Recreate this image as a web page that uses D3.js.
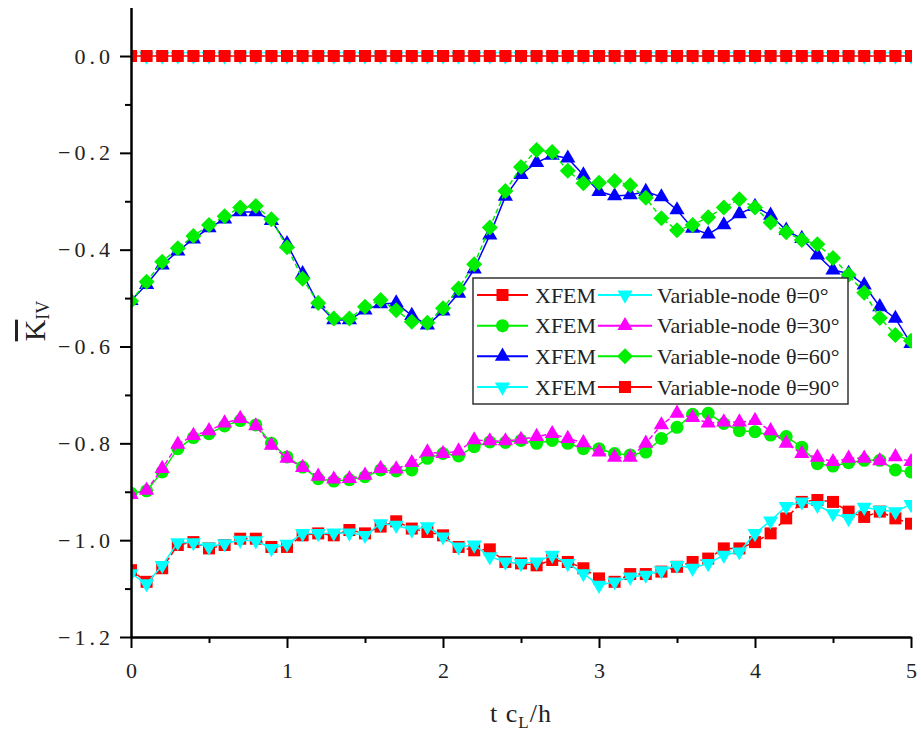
<!DOCTYPE html>
<html>
<head>
<meta charset="utf-8">
<script src="https://d3js.org/d3.v7.min.js"></script>
<style>
    body { margin: 0; background: #fff; }
    .axis path, .axis line { stroke: #000; }
</style>
</head>
<body>
<script>
    // x values (t cL/h)
    var tValues = [0.0, 0.1, 0.2, 0.3, 0.4, 0.5, 0.6, 0.7, 0.8, 0.9,
                   1.0, 1.1, 1.2, 1.3, 1.4, 1.5, 1.6, 1.7, 1.8, 1.9,
                   2.0, 2.1, 2.2, 2.3, 2.4, 2.5, 2.6, 2.7, 2.8, 2.9,
                   3.0, 3.1, 3.2, 3.3, 3.4, 3.5, 3.6, 3.7, 3.8, 3.9,
                   4.0, 4.1, 4.2, 4.3, 4.4, 4.5, 4.6, 4.7, 4.8, 4.9, 5.0];

    // theta = 0
    var xfem0 = [0, 0, 0, 0, 0, 0, 0, 0, 0, 0, 0, 0, 0, 0, 0, 0, 0, 0, 0, 0, 0, 0, 0, 0, 0, 0,
                 0, 0, 0, 0, 0, 0, 0, 0, 0, 0, 0, 0, 0, 0, 0, 0, 0, 0, 0, 0, 0, 0, 0, 0, 0];
    var varNode0 = [0, 0, 0, 0, 0, 0, 0, 0, 0, 0, 0, 0, 0, 0, 0, 0, 0, 0, 0, 0, 0, 0, 0, 0, 0, 0,
                    0, 0, 0, 0, 0, 0, 0, 0, 0, 0, 0, 0, 0, 0, 0, 0, 0, 0, 0, 0, 0, 0, 0, 0, 0];

    // theta = 30
    var xfem30 = [-0.903, -0.898, -0.859, -0.811, -0.788, -0.780, -0.764, -0.753, -0.762, -0.800,
                  -0.828, -0.849, -0.873, -0.878, -0.875, -0.869, -0.855, -0.857, -0.855, -0.831,
                  -0.821, -0.826, -0.807, -0.797, -0.798, -0.794, -0.800, -0.794, -0.800, -0.811,
                  -0.811, -0.821, -0.824, -0.818, -0.790, -0.767, -0.740, -0.738, -0.759, -0.774,
                  -0.776, -0.783, -0.786, -0.808, -0.842, -0.847, -0.840, -0.835, -0.835, -0.855, -0.859];
    var varNode30 = [-0.906, -0.897, -0.852, -0.802, -0.784, -0.774, -0.758, -0.749, -0.764, -0.804,
                     -0.831, -0.850, -0.868, -0.874, -0.873, -0.866, -0.852, -0.853, -0.840, -0.818,
                     -0.821, -0.816, -0.793, -0.795, -0.795, -0.792, -0.786, -0.780, -0.790, -0.799,
                     -0.818, -0.829, -0.829, -0.800, -0.762, -0.738, -0.747, -0.758, -0.756, -0.756,
                     -0.753, -0.774, -0.800, -0.821, -0.829, -0.838, -0.831, -0.831, -0.836, -0.828, -0.838];

    // theta = 60
    var xfem60 = [-0.505, -0.472, -0.432, -0.403, -0.378, -0.355, -0.337, -0.322, -0.322, -0.340,
                  -0.388, -0.450, -0.512, -0.545, -0.545, -0.525, -0.512, -0.510, -0.536, -0.556,
                  -0.527, -0.490, -0.440, -0.370, -0.290, -0.245, -0.220, -0.205, -0.211, -0.246,
                  -0.280, -0.289, -0.287, -0.280, -0.291, -0.318, -0.356, -0.368, -0.349, -0.326,
                  -0.311, -0.329, -0.360, -0.377, -0.411, -0.442, -0.449, -0.473, -0.518, -0.542, -0.594];
    var varNode60 = [-0.506, -0.466, -0.425, -0.397, -0.372, -0.349, -0.331, -0.313, -0.310, -0.337,
                     -0.395, -0.460, -0.510, -0.542, -0.542, -0.518, -0.504, -0.525, -0.549, -0.551,
                     -0.521, -0.480, -0.430, -0.354, -0.279, -0.229, -0.194, -0.198, -0.237, -0.263,
                     -0.262, -0.258, -0.267, -0.293, -0.335, -0.360, -0.349, -0.333, -0.313, -0.296,
                     -0.313, -0.344, -0.364, -0.380, -0.389, -0.417, -0.452, -0.489, -0.541, -0.576, -0.588];

    // theta = 90
    var xfem90 = [-1.069, -1.090, -1.052, -1.005, -1.005, -1.014, -1.007, -1.000, -1.001, -1.017,
                  -1.008, -0.986, -0.986, -0.985, -0.985, -0.990, -0.966, -0.969, -0.979, -0.972,
                  -0.993, -1.014, -1.010, -1.034, -1.045, -1.048, -1.045, -1.031, -1.048, -1.069,
                  -1.093, -1.086, -1.076, -1.072, -1.063, -1.052, -1.058, -1.048, -1.031, -1.024,
                  -0.986, -0.960, -0.930, -0.921, -0.928, -0.945, -0.955, -0.932, -0.938, -0.941, -0.926];
    var varNode90 = [-1.062, -1.086, -1.058, -1.010, -1.004, -1.017, -1.010, -0.997, -0.997, -1.014,
                     -1.014, -0.990, -0.986, -0.990, -0.979, -0.986, -0.972, -0.961, -0.976, -0.983,
                     -0.990, -1.014, -1.021, -1.019, -1.045, -1.048, -1.052, -1.041, -1.045, -1.058,
                     -1.079, -1.086, -1.070, -1.070, -1.065, -1.055, -1.045, -1.038, -1.017, -1.017,
                     -1.004, -0.986, -0.955, -0.921, -0.917, -0.921, -0.941, -0.952, -0.941, -0.955, -0.966];

    var xTicks = [0, 1, 2, 3, 4, 5];
    var xMinorTicks = [0.5, 1.5, 2.5, 3.5, 4.5];
    var yTicks = [0.0, -0.2, -0.4, -0.6, -0.8, -1.0, -1.2];
    var yMinorTicks = [-0.1, -0.3, -0.5, -0.7, -0.9, -1.1];

    var legendLabels = ["XFEM", "XFEM", "XFEM", "XFEM",
                        "Variable-node \u03b8=0\u00b0", "Variable-node \u03b8=30\u00b0",
                        "Variable-node \u03b8=60\u00b0", "Variable-node \u03b8=90\u00b0"];

    var w = 921, h = 735;
    var serif = "'Liberation Serif'";

    var svg = d3.select("body").append("svg")
        .attr("width", w)
        .attr("height", h);

    svg.append("rect").attr("width", w).attr("height", h).attr("fill", "#fff");

    var x = d3.scaleLinear().domain([0, 5]).range([131, 911]);
    var y = d3.scaleLinear().domain([-1.2, 0.1]).range([637, 7.6]);

    // plot area clip (markers at t=0 and t=5 are cut in half)
    svg.append("defs").append("clipPath").attr("id", "plot")
        .append("rect")
        .attr("x", x(0)).attr("y", y(0.1))
        .attr("width", x(5) - x(0) + 1).attr("height", y(-1.2) - y(0.1));

    var sym = {
        square:   { type: d3.symbolSquare,   size: 144, rot: 0 },
        circle:   { type: d3.symbolCircle,   size: 133, rot: 0 },
        up:       { type: d3.symbolTriangle, size: 100, rot: 0 },
        down:     { type: d3.symbolTriangle, size: 100, rot: 180 },
        diamond:  { type: d3.symbolSquare,   size: 128, rot: 45 }
    };

    // legend order (column-major) -> series definitions
    var series = [
        { values: xfem0,     color: "#ff0000", shape: "square",  dash: null,  label: legendLabels[0] },
        { values: xfem30,    color: "#00ee00", shape: "circle",  dash: null,  label: legendLabels[1] },
        { values: xfem60,    color: "#0000ff", shape: "up",      dash: null,  label: legendLabels[2] },
        { values: xfem90,    color: "#00ffff", shape: "down",    dash: null,  label: legendLabels[3] },
        { values: varNode0,  color: "#00ffff", shape: "down",    dash: "5,3", label: legendLabels[4] },
        { values: varNode30, color: "#ff00ff", shape: "up",      dash: "5,3", label: legendLabels[5] },
        { values: varNode60, color: "#00ee00", shape: "diamond", dash: "5,3", label: legendLabels[6] },
        { values: varNode90, color: "#ff0000", shape: "square",  dash: "5,3", label: legendLabels[7] }
    ];

    // drawing order so that the right markers end up on top
    var drawOrder = [4, 0, 2, 6, 1, 5, 7, 3];

    // lines + markers
    var line = d3.line()
        .x(function(d, i) { return x(tValues[i]); })
        .y(function(d) { return y(d); });

    var plot = svg.append("g").attr("clip-path", "url(#plot)");

    drawOrder.forEach(function(k) {
        var s = series[k];
        var g = plot.append("g");
        g.append("path")
            .attr("d", line(s.values))
            .attr("fill", "none")
            .attr("stroke", s.color)
            .attr("stroke-width", 1.5)
            .attr("stroke-dasharray", s.dash);
        var m = sym[s.shape];
        g.selectAll("path.pt")
            .data(s.values)
            .enter()
            .append("path")
            .attr("class", "pt")
            .attr("d", d3.symbol(m.type, m.size))
            .attr("transform", function(d, i) {
                return "translate(" + x(tValues[i]) + "," + y(d) + ") rotate(" + m.rot + ")";
            })
            .attr("fill", s.color);
    });

    //axes
    var yAxis = d3.axisLeft(y).tickValues(yTicks).tickSize(11).tickSizeOuter(0).tickPadding(6)
        .tickFormat(d3.format(".1f"));
    var gy = svg.append("g").attr("class", "axis")
        .attr("transform", "translate(131,0)")
        .call(yAxis);
    gy.select(".domain").attr("stroke-width", 2.5);
    gy.selectAll(".tick line").attr("stroke-width", 2);
    gy.selectAll(".tick text")
        .style("font-family", serif)
        .style("font-size", "22px")
        .style("letter-spacing", "4px")
        .attr("fill", "#222");

    svg.append("g").attr("class", "axis")
        .attr("transform", "translate(131,0)")
        .call(d3.axisLeft(y).tickValues(yMinorTicks).tickSize(6).tickFormat(""))
        .call(function(g) { g.select(".domain").remove(); })
        .selectAll("line").attr("stroke-width", 2);

    var xAxis = d3.axisBottom(x).tickValues(xTicks).tickSize(11).tickSizeOuter(0).tickPadding(14)
        .tickFormat(d3.format("d"));
    var gx = svg.append("g").attr("class", "axis")
        .attr("transform", "translate(0,637)")
        .call(xAxis);
    gx.select(".domain").attr("stroke-width", 2.5);
    gx.selectAll(".tick line").attr("stroke-width", 2);
    gx.selectAll(".tick text")
        .style("font-family", serif)
        .style("font-size", "22px")
        .attr("fill", "#222");

    svg.append("g").attr("class", "axis")
        .attr("transform", "translate(0,637)")
        .call(d3.axisBottom(x).tickValues(xMinorTicks).tickSize(6).tickFormat(""))
        .call(function(g) { g.select(".domain").remove(); })
        .selectAll("line").attr("stroke-width", 2);

    // axis titles
    var xt = svg.append("text")
        .attr("x", 521).attr("y", 722)
        .attr("text-anchor", "middle")
        .style("font-family", serif)
        .style("font-size", "26px").style("letter-spacing", "1px")
        .attr("fill", "#222");
    xt.append("tspan").text("t c");
    xt.append("tspan").text("L").style("font-size", "17px").attr("dy", 6);
    xt.append("tspan").text("/h").attr("dy", -6);

    var yt = svg.append("text")
        .attr("transform", "translate(45,321) rotate(-90)")
        .attr("text-anchor", "middle")
        .style("font-family", serif)
        .style("font-size", "30px")
        .attr("fill", "#222");
    yt.append("tspan").text("K").style("text-decoration", "overline");
    yt.append("tspan").text("IV").style("font-size", "18px").attr("dy", 4);

    // legend
    var lg = svg.append("g");
    lg.append("rect")
        .attr("x", 473).attr("y", 278)
        .attr("width", 375).attr("height", 126)
        .attr("fill", "#fff")
        .attr("stroke", "#333")
        .attr("stroke-width", 1.5);

    var rowY = d3.scaleLinear().domain([0, 3]).range([295, 387]);
    var cols = [{ x0: 477, x1: 528, tx: 535 }, { x0: 598, x1: 652, tx: 657 }];

    series.forEach(function(s, k) {
        var c = cols[Math.floor(k / 4)];
        var ry = rowY(k % 4);
        lg.append("line")
            .attr("x1", c.x0).attr("x2", c.x1)
            .attr("y1", ry).attr("y2", ry)
            .attr("stroke", s.color)
            .attr("stroke-width", 2);
        var m = sym[s.shape];
        lg.append("path")
            .attr("d", d3.symbol(m.type, m.size))
            .attr("transform", "translate(" + ((c.x0 + c.x1) / 2) + "," + ry + ") rotate(" + m.rot + ")")
            .attr("fill", s.color);
        lg.append("text")
            .attr("x", c.tx).attr("y", ry)
            .attr("dy", "0.35em")
            .style("font-family", serif)
            .style("font-size", "22px")
            .attr("fill", "#222")
            .text(s.label);
    });
</script>
</body>
</html>
